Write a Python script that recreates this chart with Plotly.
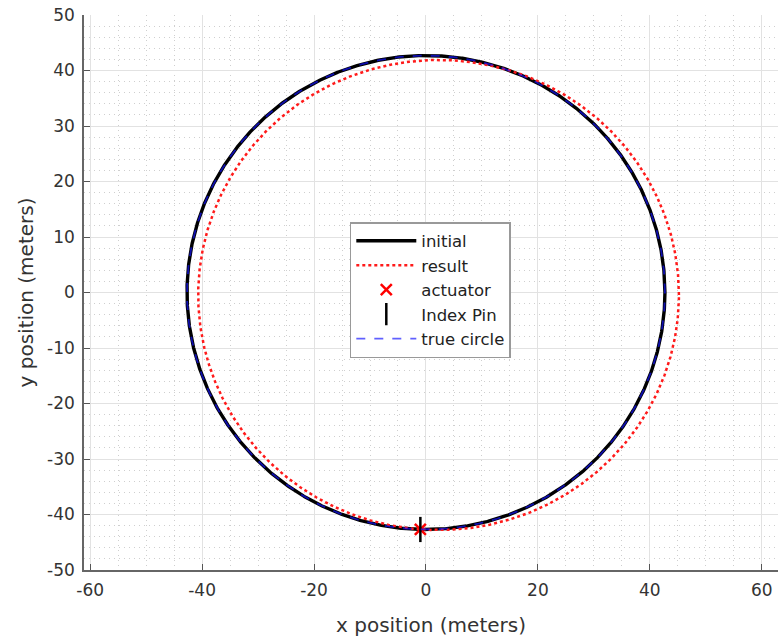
import numpy as np
import plotly.graph_objects as go

# Circle parameters (meters)
initial_center = (0.0, 0.0)
initial_radius = 42.7
result_center = (2.25, -0.45)
result_radius_x = 42.95
result_radius_y = 42.35
true_center = (0.0, 0.0)
true_radius = 42.7
actuator_x = [-1.0]
actuator_y = [-42.7]
pin_x = [-1.0]
pin_y = [-42.7]

x_ticks = [-60, -40, -20, 0, 20, 40, 60]
y_ticks = [-50, -40, -30, -20, -10, 0, 10, 20, 30, 40, 50]

theta = np.linspace(0, 2 * np.pi, 1441)

def ellipse(c, rx, ry):
    return c[0] + rx * np.cos(theta), c[1] + ry * np.sin(theta)

ix, iy = ellipse(initial_center, initial_radius, initial_radius)
rx, ry = ellipse(result_center, result_radius_x, result_radius_y)
tx, ty = ellipse(true_center, true_radius, true_radius)

fig = go.Figure()
fig.add_trace(go.Scatter(x=ix, y=iy, mode="lines", name="initial",
                         line=dict(color="black", width=3.4)))
fig.add_trace(go.Scatter(x=rx, y=ry, mode="lines", name="result",
                         line=dict(color="#ff1a1a", width=2.5, dash="dot")))
fig.add_trace(go.Scatter(x=actuator_x, y=actuator_y, mode="markers", name="actuator",
                         marker=dict(symbol="x-thin", size=11, color="red",
                                     line=dict(color="red", width=2.5))))
fig.add_trace(go.Scatter(x=pin_x, y=pin_y, mode="markers", name="Index Pin",
                         marker=dict(symbol="line-ns", size=18, color="black",
                                     line=dict(color="black", width=2.5))))
fig.add_trace(go.Scatter(x=tx, y=ty, mode="lines", name="true circle",
                         line=dict(color="rgba(20,20,255,0.68)", width=1.8, dash="dash")))

font = "DejaVu Sans, Verdana, sans-serif"
axis_common = dict(
    showline=True, linecolor="#666666", linewidth=1.5, mirror=False,
    ticks="inside", ticklen=6, tickcolor="#555555",
    showgrid=True, gridcolor="#e2e2e2", gridwidth=1,
    zeroline=False, automargin=False, ticklabelstandoff=4,
    ticklabeloverflow="allow",
    tickfont=dict(family=font, size=17, color="#333333"),
)

fig.update_layout(
    width=779, height=641,
    margin=dict(l=84, r=1, t=15, b=71),
    paper_bgcolor="white", plot_bgcolor="white",
    font=dict(family=font, color="#333333"),
    showlegend=True,
    legend=dict(x=0.383, y=0.627, xanchor="left", yanchor="top",
                bgcolor="white", bordercolor="#999999", borderwidth=1.5,
                font=dict(family=font, size=16.5, color="#222222"),
                itemwidth=60, tracegroupgap=0),
    xaxis=dict(range=[-61.1, 62.9], tickvals=x_ticks, ticktext=[str(v) for v in x_ticks],
               title=dict(text="x position (meters)", font=dict(family=font, size=20), standoff=19),
               minor=dict(dtick=5, tick0=0, showgrid=True, gridcolor="#cfcfcf", griddash="1px,4px", ticks=""),
               **axis_common),
    yaxis=dict(range=[-50, 50], tickvals=y_ticks, ticktext=[str(v) for v in y_ticks],
               title=dict(text="y position (meters)", font=dict(family=font, size=20), standoff=8),
               minor=dict(dtick=2, tick0=0, showgrid=True, gridcolor="#cfcfcf", griddash="1px,4px", ticks=""),
               **axis_common),
)

fig.write_html("out.html", config={"displayModeBar": False},
               post_script="document.body.style.margin='0';document.body.style.padding='0';")
